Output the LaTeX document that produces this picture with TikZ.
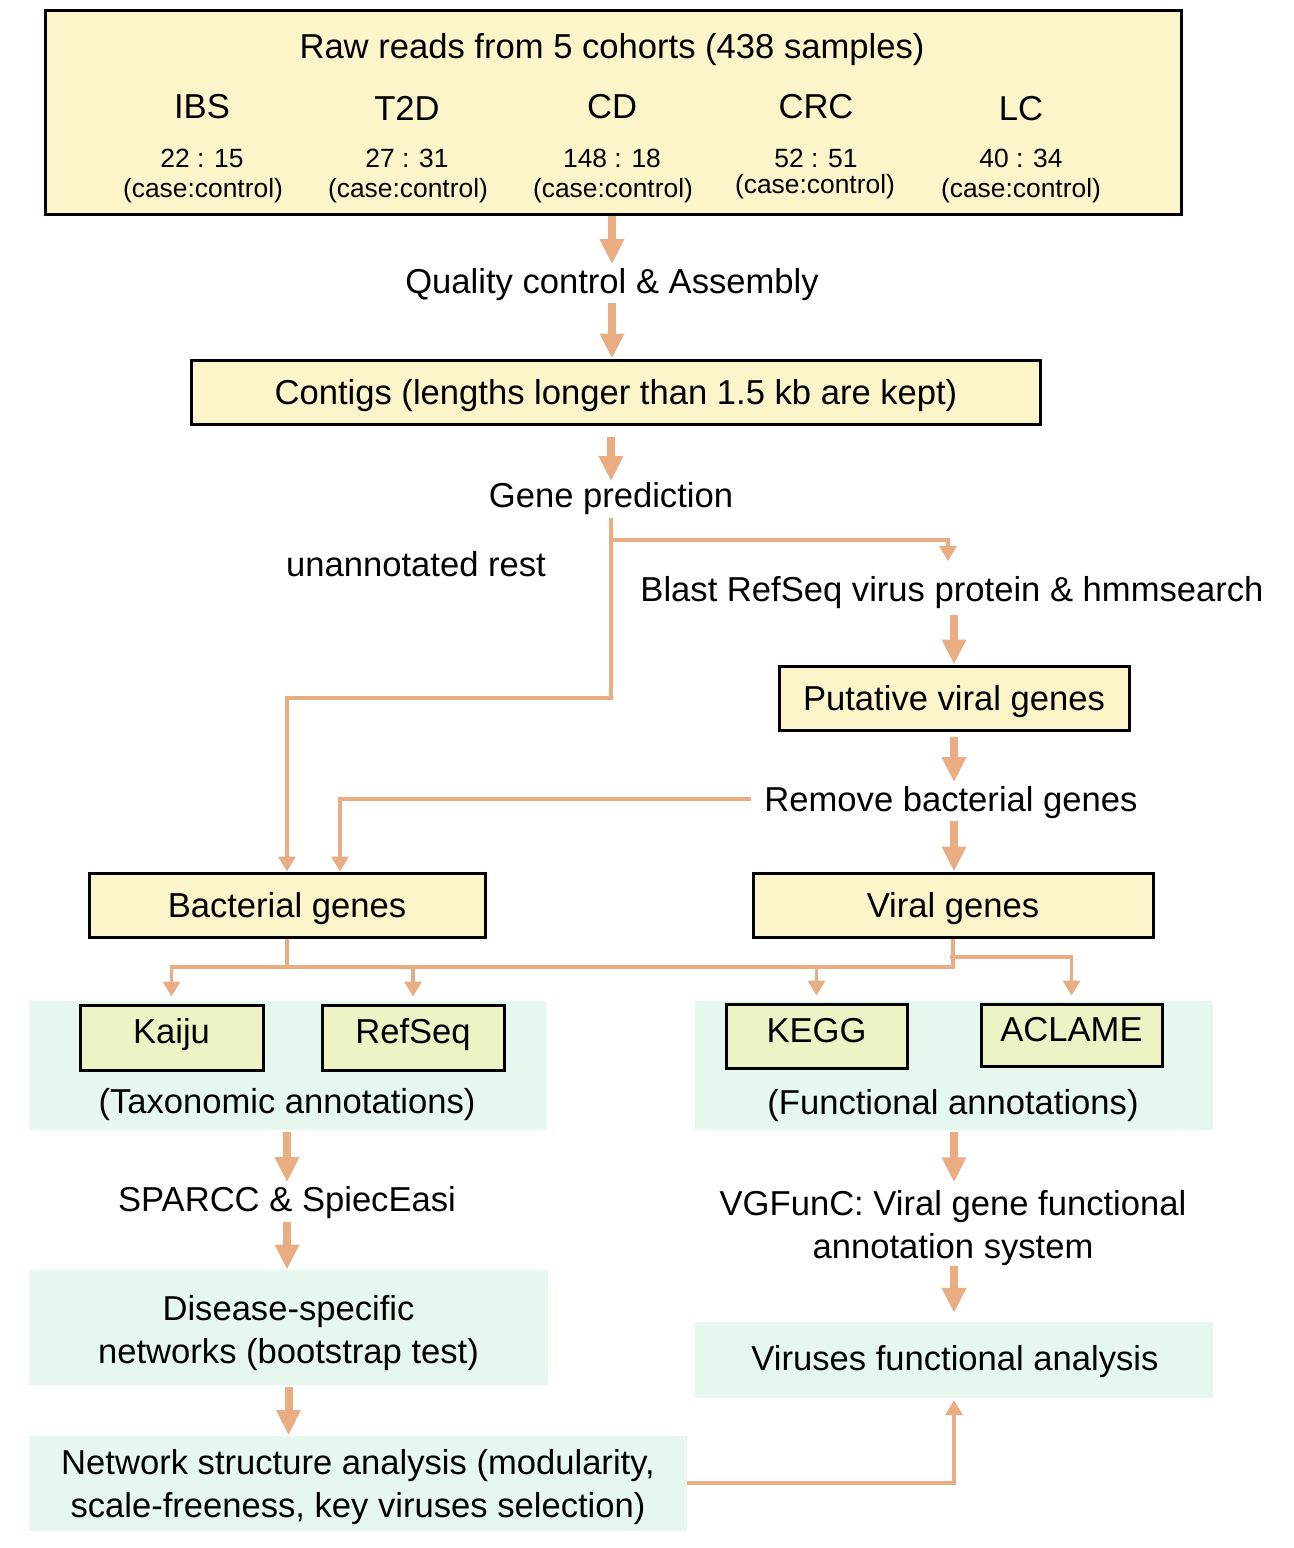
\documentclass[tikz,border=0pt]{standalone}
\usepackage{fontspec}
\setmainfont{Liberation Sans}
\usetikzlibrary{arrows.meta,calc}
\definecolor{boxyellow}{HTML}{FBF5C9}
\definecolor{subyellow}{HTML}{EEF3C5}
\definecolor{panelgreen}{HTML}{E6F7EE}
\definecolor{flow}{HTML}{E9AD81}
\newcommand\fsmain{\fontsize{17.3}{21.2}\selectfont}
\newcommand\fssmall{\fontsize{13.2}{16}\selectfont}
\begin{document}
\begin{tikzpicture}[x=0.5pt,y=-0.5pt,
  ybox/.style={draw=black,line width=1.5pt,fill=boxyellow,inner sep=0pt,font=\fsmain,text height=14.4pt,text depth=2pt},
  subbox/.style={draw=black,line width=1.5pt,fill=subyellow,inner sep=0pt,font=\fsmain,text height=7.6pt,text depth=1.6pt},
  panel/.style={fill=panelgreen,inner sep=0pt},
  lbl/.style={inner sep=0pt,font=\fsmain,text height=14.4pt,text depth=2pt},
  mlbl/.style={inner sep=0pt,font=\fsmain,align=center},
  slbl/.style={inner sep=0pt,font=\fssmall,text height=11pt,text depth=1.54pt},
  bigarrow/.style={draw=flow,line width=4pt,-{Triangle[width=11.5pt,length=12.5pt]}},
  thinline/.style={draw=flow,line width=1.7pt},
  thinarrow/.style={thinline,-{Triangle[width=8.5pt,length=7.5pt]}},
]
\useasboundingbox (0,0) rectangle (1294,1548);

% top box
\node[ybox,minimum width=568pt,minimum height=102pt] (raw) at (613,112) {};
\node[lbl] (rawt) at (612,46) {Raw reads from 5 cohorts (438 samples)};
\node[lbl] (ibs) at (202,106) {IBS};
\node[lbl] (t2d) at (407,108) {T2D};
\node[lbl] (cd) at (612,106) {CD};
\node[lbl] (crc) at (816,106) {CRC};
\node[lbl] (lc) at (1021,108) {LC};
\node[slbl] (n1) at (202,158) {22 : 15};
\node[slbl] (n2) at (407,158) {27 : 31};
\node[slbl] (n3) at (612,158) {148 : 18};
\node[slbl] (n4) at (816,158) {52 : 51};
\node[slbl] (n5) at (1021,158) {40 : 34};
\node[slbl] (c1) at (203,188) {(case:control)};
\node[slbl] (c2) at (408,188) {(case:control)};
\node[slbl] (c3) at (613,188) {(case:control)};
\node[slbl] (c4) at (815,184) {(case:control)};
\node[slbl] (c5) at (1021,188) {(case:control)};

\node[lbl] (qc) at (612,281) {Quality control \& Assembly};
\node[ybox,minimum width=424.5pt,minimum height=32pt] (contig) at (616,392) {Contigs (lengths longer than 1.5 kb are kept)};
\node[lbl] (gp) at (611,495) {Gene prediction};
\node[lbl] (unann) at (416,564) {unannotated rest};
\node[lbl] (blast) at (952,589) {Blast RefSeq virus protein \& hmmsearch};
\node[ybox,minimum width=175pt,minimum height=32pt] (put) at (954,698) {Putative viral genes};
\node[lbl] (rbg) at (951,799) {Remove bacterial genes};
\node[ybox,minimum width=198pt,minimum height=32pt] (bact) at (287,905) {Bacterial genes};
\node[ybox,minimum width=200pt,minimum height=32pt] (viral) at (953,905) {Viral genes};

% panels
\node[panel,minimum width=258.5pt,minimum height=64.5pt] (tax) at (287.5,1065.5) {};
\node[panel,minimum width=259pt,minimum height=64.5pt] (func) at (954,1065.5) {};
\node[subbox,minimum width=91.5pt,minimum height=32.5pt] (kaiju) at (171.5,1037.5) {Kaiju};
\node[subbox,minimum width=91pt,minimum height=32.5pt] (refseq) at (413,1037.5) {RefSeq};
\node[subbox,minimum width=90.5pt,minimum height=32pt] (kegg) at (816.5,1036) {KEGG};
\node[subbox,minimum width=90.5pt,minimum height=31pt] (aclame) at (1071.5,1035) {ACLAME};
\node[lbl] (taxl) at (287,1101) {(Taxonomic annotations)};
\node[lbl] (funcl) at (953,1102) {(Functional annotations)};

\node[lbl] (sparcc) at (287,1199) {SPARCC \& SpiecEasi};
\node[panel,minimum width=259.5pt,minimum height=57.5pt] (ds) at (288.5,1327.5) {};
\node[mlbl] (dst) at (288.5,1333) {Disease-specific\\networks (bootstrap test)};
\node[panel,minimum width=329pt,minimum height=47.5pt] (net) at (358,1483) {};
\node[mlbl] (nett) at (358,1487) {Network structure analysis (modularity,\\scale-freeness, key viruses selection)};

\node[mlbl] (vg) at (953,1228) {VGFunC: Viral gene functional\\annotation system};
\node[panel,minimum width=259pt,minimum height=37.75pt] (vfa) at (954,1360) {};
\node[lbl] (vfat) at (955,1358) {Viruses functional analysis};

% named bend points
\coordinate (gpfoot) at (611,518);
\coordinate (split) at (611,540);
\coordinate (leftbend) at (611,698);
\coordinate (blastin) at (948,561);
\coordinate (busL) at (170,967);
\coordinate (bus2) at (950,957);

% thick arrows
\draw[bigarrow] (raw.south -| qc.north) -- (qc.north);
\draw[bigarrow,shorten <=2.8pt] (qc.south) -- (qc.south |- contig.north);
\draw[bigarrow,shorten <=5.5pt,shorten >=-1.5pt] (contig.south -| gp.north) -- (gp.north);
\draw[bigarrow,shorten <=4.8pt] (blast.south -| put.north) -- (put.north);
\draw[bigarrow,shorten <=2.8pt] (put.south) -- (put.south |- rbg.north);
\draw[bigarrow,shorten <=2.8pt] (rbg.south -| put.south) -- (put.south |- viral.north);
\draw[bigarrow,shorten <=1pt] (tax.south -| sparcc.north) -- (sparcc.north);
\draw[bigarrow,shorten <=3.3pt] (sparcc.south) -- (sparcc.south |- ds.north);
\draw[bigarrow,shorten <=1pt] (ds.south) -- (ds.south |- net.north);
\draw[bigarrow,shorten <=1pt,shorten >=4pt] (func.south) -- (func.south |- vg.north);
\draw[bigarrow,shorten >=4.5pt] (vg.south -| func.south) -- (func.south |- vfa.north);

% thin connectors
\draw[thinarrow] (gpfoot) -- (leftbend) -| (bact.north);
\draw[thinarrow] (split) -| (blastin);
\draw[thinarrow,shorten <=6.5pt] (rbg.west) -| ([xshift=26.5pt]bact.north);
\draw[thinline] (bact.south) -- (bact.south |- busL);
\draw[thinline] (viral.south) |- (busL);
\draw[thinarrow,shorten >=3.5pt] (busL) -- (busL -| kaiju.north) -- (kaiju.north);
\draw[thinarrow,shorten >=3.5pt] (busL -| refseq.north) -- (refseq.north);
\draw[thinarrow,shorten >=3.5pt] (busL -| kegg.north) -- (kegg.north);
\draw[thinarrow,shorten >=3.5pt] (bus2) -| (aclame.north);
\draw[thinarrow,shorten >=1pt] (net.east) -| (vfa.south);
\end{tikzpicture}
\end{document}
